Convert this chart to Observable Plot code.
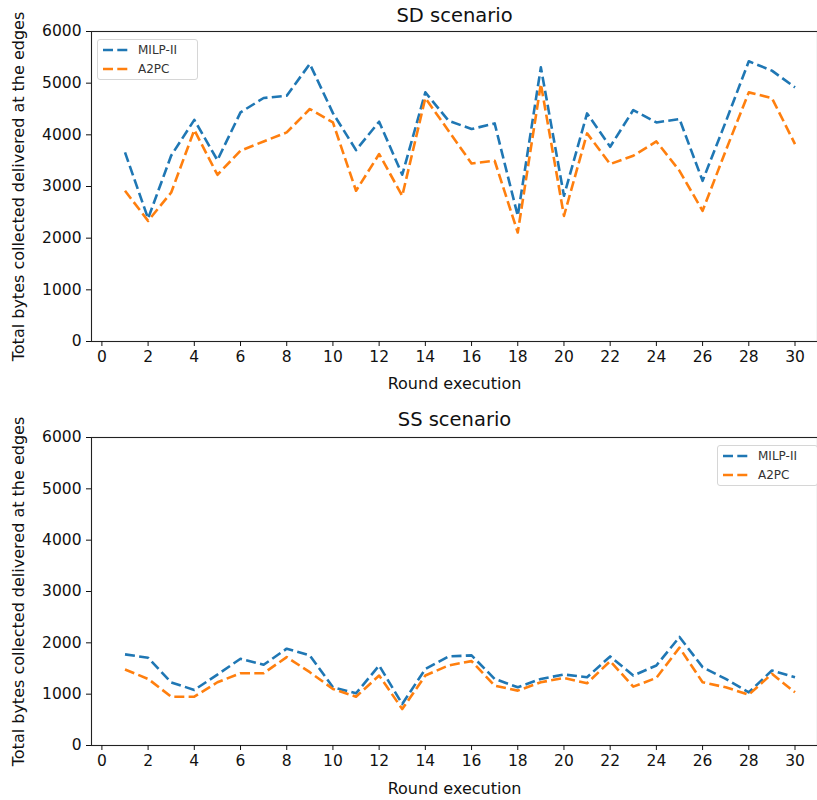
<!DOCTYPE html>
<html>
<head>
<meta charset="utf-8">
<script src="https://cdn.jsdelivr.net/npm/d3@7"></script>
<script src="https://cdn.jsdelivr.net/npm/@observablehq/plot@0.6"></script>
<style>
  html, body { margin: 0; padding: 0; background: #fff; overflow: hidden; }
  #wrap { position: relative; width: 817px; height: 800px; font-family: "DejaVu Sans", sans-serif; }
  #wrap svg { display: block; }
  .legend { position: absolute; background: rgba(255,255,255,0.8); border: 1px solid #d6d6d6; border-radius: 3px; box-sizing: border-box; }
  .legend .row { position: absolute; left: 0; height: 14px; display: flex; align-items: center; font-size: 12px; color: #333; }
</style>
</head>
<body>
<div id="wrap"></div>
<script>
const rounds = d3.range(1, 31);
const seriesNames = ["MILP-II", "A2PC"];
const seriesColors = ["#1f77b4", "#ff7f0e"];
const xTicks = d3.range(0, 31, 2);
const yTicks = [0, 1000, 2000, 3000, 4000, 5000, 6000];

const sdMilp = [3660, 2380, 3600, 4290, 3510, 4435, 4713, 4758, 5372, 4420,
                3705, 4254, 3227, 4822, 4275, 4112, 4221, 2432, 5306, 2820,
                4415, 3769, 4480, 4240, 4306, 3110, 4250, 5423, 5242, 4919];
const sdA2pc = [2917, 2335, 2884, 4093, 3227, 3692, 3872, 4047, 4500, 4240,
                2917, 3628, 2820, 4713, 4080, 3446, 3498, 2109, 4984, 2432,
                4028, 3434, 3595, 3872, 3304, 2529, 3692, 4822, 4713, 3821];
const ssMilp = [1775, 1709, 1230, 1082, 1382, 1690, 1572, 1886, 1755, 1134,
                1016, 1559, 808, 1490, 1735, 1755, 1297, 1134, 1297, 1382,
                1330, 1735, 1363, 1559, 2114, 1526, 1297, 1036, 1461, 1330];
const ssA2pc = [1480, 1297, 951, 951, 1232, 1408, 1408, 1722, 1428, 1102,
                951, 1363, 710, 1363, 1559, 1644, 1167, 1069, 1232, 1317,
                1212, 1644, 1147, 1317, 1906, 1232, 1134, 990, 1396, 1036];

const yLabel = "Total bytes collected delivered at the edges";
const xLabel = "Round execution";

function rows(a, b) {
  const out = [];
  rounds.forEach((r, i) => {
    out.push({round: r, value: a[i], series: seriesNames[0]});
    out.push({round: r, value: b[i], series: seriesNames[1]});
  });
  return out;
}

function panel({data, title, height, marginTop, marginBottom, titleDy, xLabelDy}) {
  return Plot.plot({
    width: 817,
    height,
    marginLeft: 91,
    marginRight: 0,
    marginTop,
    marginBottom,
    style: {fontFamily: "DejaVu Sans, sans-serif", fontSize: "15.5px", color: "#111", overflow: "visible"},
    x: {domain: [-0.45, 31.45], range: [91, 828]},
    y: {domain: [0, 6000]},
    color: {domain: seriesNames, range: seriesColors},
    marks: [
      Plot.frame({stroke: "#222", strokeWidth: 1.1}),
      Plot.axisX({ticks: xTicks, tickSize: 5, tickPadding: 4, label: null, fontSize: 15.5, tickFormat: d3.format("d")}),
      Plot.axisY({ticks: yTicks, tickSize: 5, tickPadding: 5, label: null, fontSize: 15.5, tickFormat: d3.format("d")}),
      Plot.line(data, {x: "round", y: "value", z: "series", stroke: "series",
        strokeWidth: 2.6, strokeDasharray: "10,4.3", strokeLinejoin: "round", strokeLinecap: "butt"}),
      Plot.text([title], {frameAnchor: "top", lineAnchor: "middle", dy: titleDy, fontSize: 19.5, text: d => d, fill: "#111"}),
      Plot.text([xLabel], {frameAnchor: "bottom", lineAnchor: "middle", dy: xLabelDy, fontSize: 16, text: d => d, fill: "#111"}),
      Plot.text([yLabel], {frameAnchor: "left", textAnchor: "middle", lineAnchor: "middle", dx: -73, rotate: -90, fontSize: 16, text: d => d, fill: "#111"})
    ]
  });
}

const wrap = document.getElementById("wrap");
wrap.appendChild(panel({data: rows(sdMilp, sdA2pc), title: "SD scenario", height: 395, marginTop: 31, marginBottom: 54, titleDy: -16, xLabelDy: 42}));
wrap.appendChild(panel({data: rows(ssMilp, ssA2pc), title: "SS scenario", height: 405, marginTop: 42, marginBottom: 55, titleDy: -18, xLabelDy: 43}));

function legend(left, top) {
  const box = document.createElement("div");
  box.className = "legend";
  box.style.left = left + "px";
  box.style.top = top + "px";
  box.style.width = "101px";
  box.style.height = "41px";
  seriesNames.forEach((name, i) => {
    const row = document.createElement("div");
    row.className = "row";
    row.style.top = (3 + i * 19) + "px";
    row.innerHTML = `<svg width="40" height="14" style="display:block"><line x1="5" x2="32" y1="7" y2="7" stroke="${seriesColors[i]}" stroke-width="2.6" stroke-dasharray="10,4.3"/></svg><span>${name}</span>`;
    box.appendChild(row);
  });
  wrap.appendChild(box);
}
legend(97, 39);
legend(717, 445);
</script>
</body>
</html>
